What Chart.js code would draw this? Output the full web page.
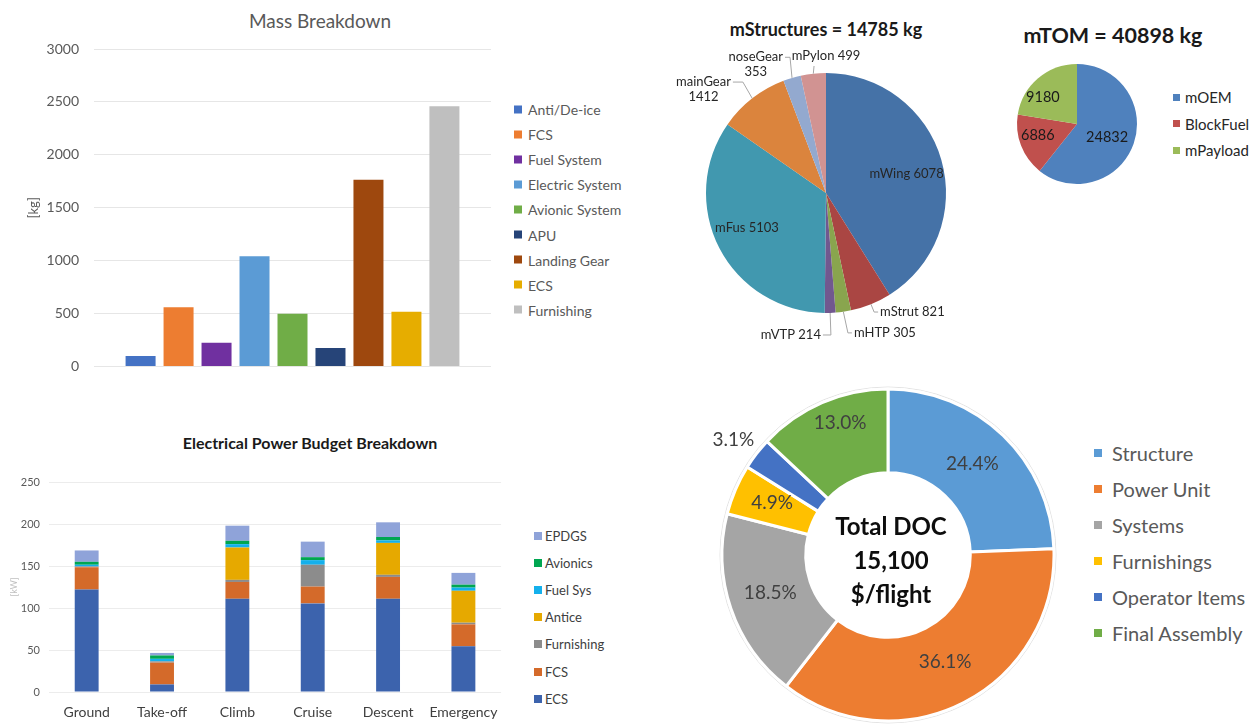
<!DOCTYPE html>
<html>
<head>
<meta charset="utf-8">
<script src="https://cdn.jsdelivr.net/npm/chart.js"></script>
<style>
  html, body { margin:0; padding:0; background:#fff; }
  body { width:1251px; height:724px; position:relative; overflow:hidden; font-family: Lato, 'Open Sans', sans-serif; }
  canvas { position:absolute; }
  .ttl { position:absolute; white-space:nowrap; transform:translate(-50%,-50%); line-height:1; }
  .lg { position:absolute; white-space:nowrap; transform:translateY(-50%); display:flex; align-items:center; line-height:1; }
  .lg i { display:inline-block; flex:none; }
</style>
</head>
<body>
<script>
// ---------------- DATA ----------------
// Mass Breakdown (kg)
const massCategories = ['Anti/De-ice','FCS','Fuel System','Electric System','Avionic System','APU','Landing Gear','ECS','Furnishing'];
const massValues     = [100, 560, 225, 1043, 500, 175, 1765, 517, 2460];
const massTicks      = [0, 500, 1000, 1500, 2000, 2500, 3000];

// Electrical Power Budget Breakdown (kW)
const phaseLabels   = ['Ground','Take-off','Climb','Cruise','Descent','Emergency'];
const powerSeries   = ['ECS','FCS','Furnishing','Antice','Fuel Sys','Avionics','EPDGS'];
const ecsPower      = [122, 9, 111, 105.5, 111, 54.5];
const fcsPower      = [26.5, 26, 20, 20, 26, 26];
const furnishPower  = [1, 1.5, 2.5, 26, 2.5, 2];
const anticePower   = [0, 0, 38.5, 0, 38, 38];
const fuelSysPower  = [2, 3, 4, 5.5, 3, 3.8];
const avionicsPower = [3.5, 4, 4, 3.5, 4, 3.5];
const epdgsPower    = [13.5, 3, 18, 18.5, 17.5, 14];
const powerTicks    = [0, 50, 100, 150, 200, 250];

// mStructures pie (kg)
const structLabels = ['mWing','mStrut','mHTP','mVTP','mFus','mainGear','noseGear','mPylon'];
const structValues = [6078, 821, 305, 214, 5103, 1412, 353, 499];
const structTotal  = 14785;

// mTOM pie (kg)
const tomLabels = ['mOEM','BlockFuel','mPayload'];
const tomValues = [24832, 6886, 9180];
const tomTotal  = 40898;

// Total DOC doughnut (%)
const docLabels = ['Structure','Power Unit','Systems','Furnishings','Operator Items','Final Assembly'];
const docShares = [24.4, 36.1, 18.5, 4.9, 3.1, 13.0];
const docCenterText = ['Total DOC', '15,100', '$/flight'];

// ---------------- STYLES ----------------
const massColors  = ['#4472c4','#ed7d31','#7030a0','#5b9bd5','#70ad47','#264478','#9e480e','#e6ad00','#bfbfbf'];
const powerColors = ['#3c63ad','#d46a2a','#8c8c8c','#e6a900','#14b0ec','#00a651','#8fa3d9'];
const structColors= ['#4572a7','#aa4643','#89a54e','#71588f','#4198af','#db843d','#93a9cf','#d19392'];
const tomColors   = ['#4f81bd','#c0504d','#9bbb59'];
const docColors   = ['#5b9bd5','#ed7d31','#a5a5a5','#ffc000','#4472c4','#70ad47'];

const FONT = "Lato, 'Open Sans', sans-serif";
Chart.defaults.font.family = FONT;
Chart.defaults.animation = false;
Chart.defaults.responsive = false;
Chart.defaults.maintainAspectRatio = false;
Chart.defaults.plugins.legend.display = false;
Chart.defaults.plugins.tooltip.enabled = false;

function mkCanvas(left, top, w, h) {
  const c = document.createElement('canvas');
  c.width = w; c.height = h;
  c.style.left = left + 'px'; c.style.top = top + 'px';
  c.style.width = w + 'px'; c.style.height = h + 'px';
  document.body.appendChild(c);
  return c;
}
function mkText(text, x, y, css) {
  const d = document.createElement('div');
  d.className = 'ttl';
  d.textContent = text;
  d.style.left = x + 'px'; d.style.top = y + 'px';
  Object.assign(d.style, css);
  document.body.appendChild(d);
}
function mkLegend(labels, colors, o) {
  labels.forEach((lab, k) => {
    const d = document.createElement('div');
    d.className = 'lg';
    d.style.left = o.x + 'px';
    d.style.top = (o.y0 + k * o.dy) + 'px';
    d.style.font = o.font;
    d.style.color = o.color;
    const sq = document.createElement('i');
    sq.style.width = o.box + 'px'; sq.style.height = o.box + 'px';
    sq.style.background = colors[k];
    sq.style.marginRight = o.gap + 'px';
    d.appendChild(sq);
    d.appendChild(document.createTextNode(lab));
    document.body.appendChild(d);
  });
}

// slice label plugin factory (labels computed from arc geometry)
function sliceLabels(cfg) {
  return {
    id: 'sliceLabels',
    beforeDatasetsDraw(chart) {
      if (!cfg.outline) return;
      const arc = chart.getDatasetMeta(0).data[0];
      const ctx = chart.ctx;
      ctx.save();
      ctx.strokeStyle = cfg.outline; ctx.lineWidth = 1;
      ctx.beginPath(); ctx.arc(arc.x, arc.y, arc.outerRadius + 2, 0, Math.PI * 2); ctx.stroke();
      ctx.restore();
    },
    afterDatasetsDraw(chart) {
      const ctx = chart.ctx;
      const meta = chart.getDatasetMeta(0);
      meta.data.forEach((arc, i) => {
        const p = cfg.place[i];
        const mid = (arc.startAngle + arc.endAngle) / 2;
        const R = arc.outerRadius;
        const a = mid + (p.shift || 0) * Math.PI / 180;
        const ax = arc.x + Math.cos(a) * p.r * R;
        const ay = arc.y + Math.sin(a) * p.r * R;
        const lines = cfg.text(i, p);
        ctx.save();
        ctx.font = cfg.font;
        ctx.fillStyle = cfg.color;
        ctx.textBaseline = 'middle';
        if (p.hook === undefined) {
          ctx.textAlign = 'center';
          lines.forEach((ln, k) => ctx.fillText(ln, ax, ay + (k - (lines.length - 1) / 2) * cfg.lh));
        } else {
          const ex = arc.x + Math.cos(mid) * R, ey = arc.y + Math.sin(mid) * R;
          const hx = ax + p.hook;
          ctx.strokeStyle = cfg.lineColor; ctx.lineWidth = 1;
          ctx.beginPath(); ctx.moveTo(ex, ey); ctx.lineTo(ax, ay); ctx.lineTo(hx, ay); ctx.stroke();
          const gap = p.align === 'left' ? 2 : (p.align === 'right' ? -2 : 0);
          const tx = hx + gap + (p.tx || 0), ty = ay + (p.ty || 0);
          ctx.textAlign = p.align;
          ctx.fillText(lines[0], tx, ty);
          const w1 = ctx.measureText(lines[0]).width;
          const cx = p.align === 'left' ? tx + w1 / 2 : (p.align === 'right' ? tx - w1 / 2 : tx);
          ctx.textAlign = 'center';
          for (let k = 1; k < lines.length; k++) ctx.fillText(lines[k], cx, ty + k * cfg.lh);
        }
        ctx.restore();
      });
    }
  };
}

// ---------------- CHART 1: Mass Breakdown ----------------
mkText('Mass Breakdown', 320, 20, {font: '19px ' + FONT, color: '#595959'});
new Chart(mkCanvas(0, 0, 500, 390), {
  type: 'bar',
  data: {
    labels: [''],
    datasets: massCategories.map((name, k) => ({
      label: name, data: [massValues[k]], backgroundColor: massColors[k],
      categoryPercentage: 0.861, barPercentage: 0.79
    }))
  },
  options: {
    devicePixelRatio: 1,
    layout: { padding: { left: 0, right: 9, top: 49, bottom: 19 } },
    scales: {
      x: { display: false },
      y: {
        min: massTicks[0], max: massTicks[massTicks.length - 1],
        afterBuildTicks: s => { s.ticks = massTicks.map(v => ({ value: v })); },
        afterFit: s => { s.width = 94; },
        ticks: { padding: 15, color: '#595959', font: { size: 14 }, callback: v => String(v) },
        grid: { color: '#e6e6e6', drawTicks: false },
        border: { display: false },
        title: { display: true, text: '[kg]', color: '#595959', font: { size: 13 }, padding: { top: 26, bottom: 0 } }
      }
    }
  }
});
mkLegend(massCategories, massColors, { x: 514, y0: 109, dy: 25.1, box: 8, gap: 6, font: '14px ' + FONT, color: '#595959' });

// ---------------- CHART 2: Electrical Power Budget ----------------
mkText('Electrical Power Budget Breakdown', 310, 442, {font: 'bold 16px ' + FONT, color: '#1a1a1a'});
const powerData = [ecsPower, fcsPower, furnishPower, anticePower, fuelSysPower, avionicsPower, epdgsPower];
new Chart(mkCanvas(0, 420, 510, 304), {
  type: 'bar',
  data: {
    labels: phaseLabels,
    datasets: powerSeries.map((name, k) => ({
      label: name, data: powerData[k], backgroundColor: powerColors[k],
      categoryPercentage: 1, barPercentage: 0.317
    }))
  },
  options: {
    devicePixelRatio: 1,
    layout: { padding: { left: 0, right: 7, top: 62, bottom: 0 } },
    scales: {
      x: {
        stacked: true,
        afterFit: s => { s.height = 32; },
        ticks: { padding: 12, color: '#404040', font: { size: 14 } },
        grid: { display: false, drawTicks: false },
        border: { display: false }
      },
      y: {
        stacked: true,
        min: powerTicks[0], max: powerTicks[powerTicks.length - 1],
        afterBuildTicks: s => { s.ticks = powerTicks.map(v => ({ value: v })); },
        afterFit: s => { s.width = 49; },
        ticks: { padding: 9, color: '#595959', font: { size: 11 } },
        grid: { color: '#ececec', drawTicks: false },
        border: { display: false },
        title: { display: true, text: '[kW]', color: '#bfbfbf', font: { size: 9 }, padding: { top: 8.6, bottom: 0 } }
      }
    }
  }
});
mkLegend(powerSeries.slice().reverse(), powerColors.slice().reverse(),
  { x: 534, y0: 536, dy: 27.1, box: 8, gap: 3, font: '13px ' + FONT, color: '#404040' });

// ---------------- CHART 3: mStructures pie ----------------
mkText('mStructures = ' + structTotal + ' kg', 826, 29, {font: 'bold 18px ' + FONT, color: '#1a1a1a'});
const structPlace = [
  { r: 0.69, shift: 2.8 },
  { r: 1.07, shift: 0, hook: 4, align: 'left' },
  { r: 1.18, shift: -0.6, hook: 4, align: 'left' },
  { r: 1.184, shift: 0, hook: -8, align: 'right' },
  { r: 0.72, shift: 3.4 },
  { r: 1.155, shift: 1.1, hook: -10, align: 'right', split: true },
  { r: 1.17, shift: 1.6, hook: -5, align: 'right', split: true },
  { r: 1.063, shift: 0.7, hook: 0, align: 'center', tx: 12, ty: -10 }
];
new Chart(mkCanvas(640, 40, 372, 306), {
  type: 'pie',
  data: {
    labels: structLabels,
    datasets: [{ data: structValues, backgroundColor: structColors, borderWidth: 0, radius: 120 }]
  },
  options: { devicePixelRatio: 1, layout: { padding: 0 } },
  plugins: [sliceLabels({
    place: structPlace, font: '13px ' + FONT, color: '#262626', lineColor: '#a6a6a6', lh: 15,
    text: (i, p) => p.split ? [structLabels[i], String(structValues[i])] : [structLabels[i] + ' ' + structValues[i]]
  })]
});

// ---------------- CHART 4: mTOM pie ----------------
mkText('mTOM = ' + tomTotal + ' kg', 1113, 35, {font: 'bold 21.5px ' + FONT, color: '#1a1a1a'});
const tomPlace = [ { r: 0.55, shift: 4.9 }, { r: 0.68, shift: 4.7 }, { r: 0.72, shift: -11.7 } ];
new Chart(mkCanvas(1002, 48.5, 150, 150), {
  type: 'pie',
  data: {
    labels: tomLabels,
    datasets: [{ data: tomValues, backgroundColor: tomColors, borderWidth: 0, radius: 60 }]
  },
  options: { devicePixelRatio: 1, layout: { padding: 0 } },
  plugins: [sliceLabels({
    place: tomPlace, font: '14.5px ' + FONT, color: '#1a1a1a', lineColor: '#a6a6a6', lh: 16,
    text: i => [String(tomValues[i])]
  })]
});
mkLegend(tomLabels, tomColors, { x: 1173, y0: 97, dy: 26.5, box: 7, gap: 5, font: '15px ' + FONT, color: '#262626' });

// ---------------- CHART 5: Total DOC doughnut ----------------
const docPlace = [
  { r: 0.75, shift: -1.2 }, { r: 0.73, shift: -0.9 }, { r: 0.745, shift: 1.1 },
  { r: 0.765, shift: 0.9 }, { r: 1.16, shift: -1 }, { r: 0.845, shift: 3.4 }
];
new Chart(mkCanvas(699, 370, 378, 354), {
  type: 'doughnut',
  data: {
    labels: docLabels,
    datasets: [{ data: docShares, backgroundColor: docColors, borderColor: '#ffffff', borderWidth: 3, radius: 166, cutout: 83 }]
  },
  options: { devicePixelRatio: 1, layout: { padding: { top: 16, bottom: 0, left: 0, right: 0 } } },
  plugins: [sliceLabels({
    place: docPlace, font: '19px ' + FONT, color: '#404040', lineColor: '#a6a6a6', lh: 20, outline: '#e3e3e3',
    text: i => [docShares[i].toFixed(1) + '%']
  })]
});
docCenterText.forEach((t, k) => mkText(t, 891, 525 + k * 34, {font: 'bold 24px ' + FONT, color: '#0d0d0d'}));
mkLegend(docLabels, docColors, { x: 1094, y0: 453, dy: 36, box: 8, gap: 10, font: '20px ' + FONT, color: '#595959' });
</script>
</body>
</html>
